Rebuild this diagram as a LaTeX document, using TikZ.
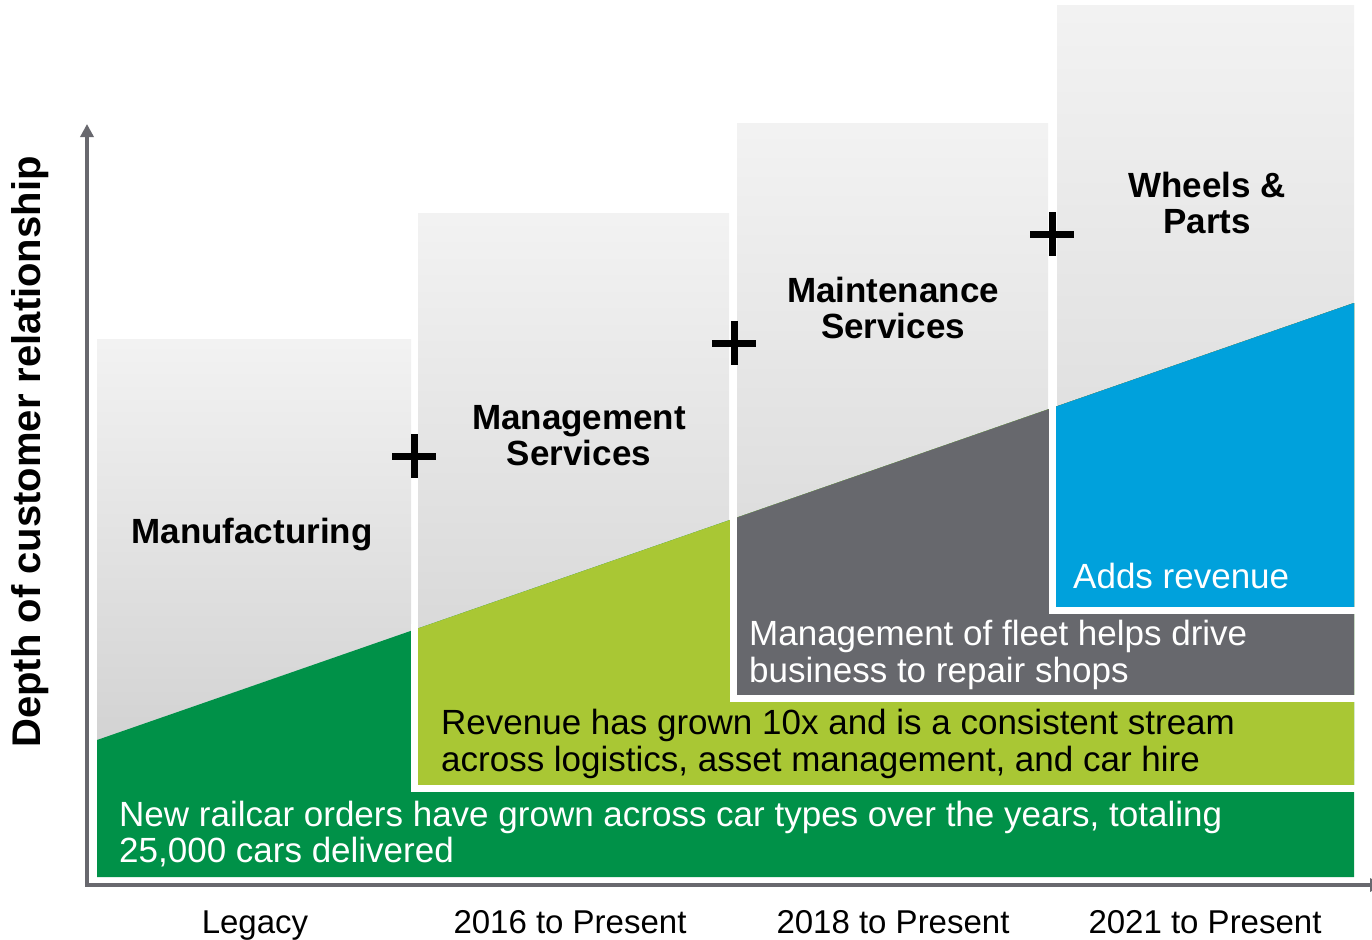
\documentclass[tikz,border=0pt]{standalone}
\usepackage{fontspec}
\setmainfont{Liberation Sans}
\usetikzlibrary{arrows.meta,
	calc}
\definecolor{railgreen}{RGB}{0,145,72}
\definecolor{raillime}{RGB}{169,199,52}
\definecolor{railgray}{RGB}{103,104,109}
\definecolor{railblue}{RGB}{0,161,220}
\definecolor{railaxis}{RGB}{104,104,110}
\tikzset{
	coltitle/.style={anchor=base, align=center, inner sep=0pt,
		font=\fontsize{35}{36}\selectfont\bfseries},
	bandtext/.style={anchor=base west, align=left, inner sep=0pt,
		font=\fontsize{35}{36.5}\selectfont},
	ticktext/.style={anchor=base, inner sep=0pt,
		font=\fontsize{33}{36}\selectfont}
}

\begin{document}
\begin{tikzpicture}[x=1pt, y=-1pt]
	\clip (0,0) rectangle (1372,939);
	% grey columns
	\foreach \l/\r/\t in {97/411/339, 418/729/213, 737/1048/124, 1057/1354/6} {
		\shade[top color=black!5, bottom color=black!18] (\l,\t) rectangle (\r,760);
	}
	% revenue layers below the slope
	\fill[railgreen] (97,740) -- (1354,303) -- (1354,877) -- (97,877) -- cycle;
	\foreach \x/\yb/\col in {414.5/788.5/raillime, 733/698.5/railgray, 1052.5/610.5/railblue} {
		\pgfmathsetmacro{\yd}{740-(\x-97)/1257*437}
		\fill[\col] (\x,\yd) -- (1354,303) -- (1354,\yb) -- (\x,\yb) -- cycle;
		\draw[white, line width=7pt] (\x,\yd-6) -- (\x,\yb) -- (1360,\yb);
	}
	% plus signs
	\foreach \x/\y in {414/456, 734/343, 1052/234} {
		\draw[black, line width=7pt] (\x-22,\y) -- (\x+22,\y) (\x,\y-22) -- (\x,\y+22);
	}
	\draw (252,543) node[coltitle] (manuf) {Manufacturing};
	\draw (579,465) node[coltitle] (mgmt) {Management\\Services};
	\draw (893,338) node[coltitle] (maint) {Maintenance\\Services};
	\draw (1207,233) node[coltitle] (wheels) {Wheels \&\\Parts};
	\draw (119,862.5) node[bandtext, white] (orders) {New railcar orders have grown across car types over the years, totaling\\25,000 cars delivered};
	\draw (441,771) node[bandtext] (revenue) {Revenue has grown 10x and is a consistent stream\\across logistics, asset management, and car hire};
	\draw (749,682) node[bandtext, white] (fleet) {Management of fleet helps drive\\business to repair shops};
	\draw (1073,588) node[bandtext, white] (adds) {Adds revenue};
	% axes
	\draw[railaxis, line width=4pt, {Triangle[length=13pt,width=13pt]}-{Triangle[length=13pt,width=13pt]}] (87,124) -- (87,885) -- (1383,885);
	\draw (30,452) node[rotate=90, inner sep=0pt, font=\fontsize{40}{42}\selectfont\bfseries] (depth) {Depth of customer relationship};
	\foreach \x/\lab [count=\i] in {255/Legacy, 570/2016 to Present, 893/2018 to Present, 1205/2021 to Present} {
		\draw (\x,933) node[ticktext] (tick\i) {\lab};
	}
\end{tikzpicture}
\end{document}
